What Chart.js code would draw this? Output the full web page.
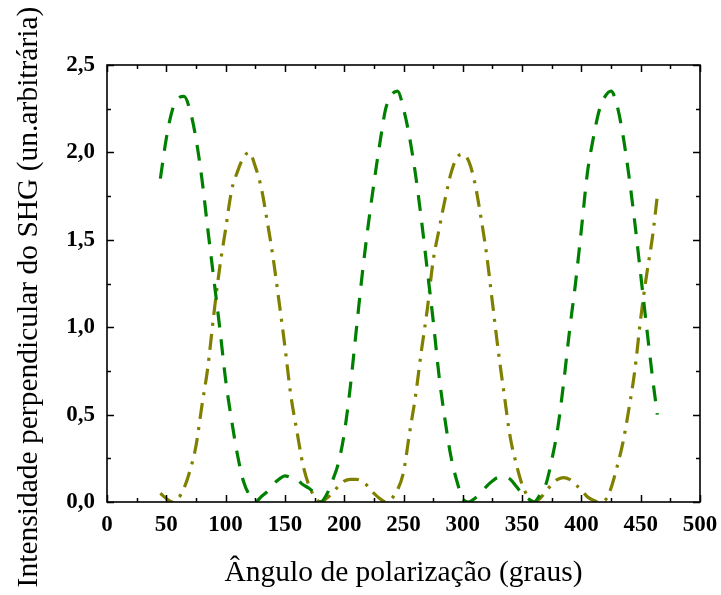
<!DOCTYPE html>
<html>
<head>
<meta charset="utf-8">
<script src="https://cdn.jsdelivr.net/npm/chart.js@4.4.1/dist/chart.umd.min.js"></script>
<style>
  html, body { margin: 0; padding: 0; background: #ffffff; }
  canvas { display: block; }
</style>
</head>
<body>
<canvas id="c" width="721" height="595"></canvas>
<script>
// Ângulo de polarização (graus)
const angles = [45,50,55,60,65,70,75,80,85,90,95,100,105,110,115,120,125,130,135,140,145,150,155,160,165,170,175,180,
  185,190,195,200,205,210,215,220,225,230,235,240,245,250,255,260,265,270,275,280,285,290,295,300,305,310,315,320,
  325,330,335,340,345,350,355,360,365,370,375,380,385,390,395,400,405,410,415,420,425,430,435,440,445,450,455,460,464];

// green dashed series
const seriesGreen = [1.85,2.08,2.24,2.31,2.32,2.24,2.08,1.85,1.56,1.28,1.00,0.70,0.47,0.27,0.12,0.04,0.00,0.03,0.06,0.10,0.13,0.15,0.14,0.13,0.10,0.08,0.05,0.00,
  0.04,0.12,0.22,0.39,0.65,0.97,1.29,1.57,1.82,2.05,2.25,2.33,2.35,2.25,2.09,1.88,1.62,1.33,1.04,0.72,0.47,0.26,0.12,0.02,0.00,0.02,0.05,0.09,
  0.12,0.14,0.14,0.13,0.09,0.05,0.02,0.00,0.04,0.10,0.24,0.42,0.68,0.98,1.25,1.56,1.88,2.08,2.24,2.32,2.35,2.27,2.10,1.87,1.60,1.30,1.00,0.71,0.50];

// olive dash-dot series
const seriesOlive = [0.05,0.02,0.00,0.02,0.08,0.18,0.32,0.55,0.77,1.07,1.34,1.56,1.78,1.89,1.97,2.00,1.92,1.80,1.61,1.40,1.15,0.89,0.61,0.41,0.22,0.10,0.03,0.00,
  0.02,0.05,0.09,0.12,0.13,0.13,0.12,0.09,0.05,0.02,0.00,0.02,0.07,0.17,0.39,0.60,0.86,1.10,1.38,1.56,1.73,1.88,1.97,1.99,1.95,1.83,1.64,1.42,
  1.14,0.86,0.61,0.37,0.22,0.10,0.03,0.00,0.02,0.06,0.10,0.13,0.14,0.13,0.10,0.07,0.03,0.01,0.00,0.01,0.08,0.20,0.34,0.53,0.75,1.05,1.30,1.52,1.75];

const xTicks = [0,50,100,150,200,250,300,350,400,450,500];
const yTicks = [0,0.5,1.0,1.5,2.0,2.5];
const xTitle = 'Ângulo de polarização (graus)';
const yTitle = 'Intensidade perpendicular do SHG (un.arbitrária)';

const toPts = (xs, ys) => xs.map((x, i) => ({x: x, y: ys[i]}));

const frameTicks = {
  id: 'frameTicks',
  afterDatasetsDraw(chart) {
    const {ctx, chartArea: a, scales: {x, y}} = chart;
    ctx.save();
    ctx.strokeStyle = '#000';
    ctx.lineWidth = 1.6;
    ctx.strokeRect(a.left, a.top, a.right - a.left, a.bottom - a.top);
    ctx.lineWidth = 1.5;
    ctx.beginPath();
    for (let v = 0; v <= 500; v += 25) {
      const px = Math.round(x.getPixelForValue(v)) + 0.5;
      const len = (v % 50 === 0) ? 7 : 4;
      ctx.moveTo(px, a.bottom); ctx.lineTo(px, a.bottom - len);
      ctx.moveTo(px, a.top); ctx.lineTo(px, a.top + len);
    }
    for (let k = 0; k <= 10; k++) {
      const v = k * 0.25;
      const py = Math.round(y.getPixelForValue(v)) + 0.5;
      const len = (k % 2 === 0) ? 7 : 4;
      ctx.moveTo(a.left, py); ctx.lineTo(a.left + len, py);
      ctx.moveTo(a.right, py); ctx.lineTo(a.right - len, py);
    }
    ctx.stroke();
    // y axis title
    ctx.fillStyle = '#000';
    ctx.font = '29.5px "Liberation Serif"';
    ctx.textAlign = 'center';
    ctx.textBaseline = 'alphabetic';
    ctx.translate(37, 297);
    ctx.rotate(-Math.PI / 2);
    ctx.fillText(yTitle, 0, 0);
    ctx.restore();
  }
};

new Chart(document.getElementById('c'), {
  type: 'scatter',
  data: {
    datasets: [
      {
        data: toPts(angles, seriesGreen),
        showLine: true,
        borderColor: '#008000',
        borderWidth: 3.2,
        borderDash: [16, 12],
        pointRadius: 0,
        cubicInterpolationMode: 'monotone',
        fill: false
      },
      {
        data: toPts(angles, seriesOlive),
        showLine: true,
        borderColor: '#808000',
        borderWidth: 3.2,
        borderDash: [16, 8, 3, 8],
        pointRadius: 0,
        cubicInterpolationMode: 'monotone',
        fill: false
      }
    ]
  },
  options: {
    responsive: false,
    animation: false,
    events: [],
    layout: { padding: { top: 65, right: 21, left: 0, bottom: 0 } },
    plugins: { legend: { display: false }, tooltip: { enabled: false } },
    scales: {
      x: {
        type: 'linear', min: 0, max: 500,
        afterBuildTicks: s => { s.ticks = xTicks.map(v => ({value: v})); },
        afterFit: s => { s.height = 93; s.paddingLeft = 0; s.paddingRight = 0; },
        grid: { display: false, drawTicks: false },
        border: { display: false },
        ticks: { color: '#000', padding: 9, maxRotation: 0, font: { family: 'Liberation Serif', size: 23, weight: 'bold' } },
        title: { display: true, text: xTitle, color: '#000', padding: { top: 0, bottom: 4 },
                 font: { family: 'Liberation Serif', size: 29.5, weight: 'normal' } }
      },
      y: {
        type: 'linear', min: 0, max: 2.5,
        afterBuildTicks: s => { s.ticks = yTicks.map(v => ({value: v})); },
        afterFit: s => { s.width = 107; s.paddingTop = 0; s.paddingBottom = 0; },
        grid: { display: false, drawTicks: false },
        border: { display: false },
        ticks: { color: '#000', padding: 12, callback: v => v.toFixed(1).replace('.', ','),
                 font: { family: 'Liberation Serif', size: 23, weight: 'bold' } },
        title: { display: false }
      }
    }
  },
  plugins: [frameTicks]
});
</script>
</body>
</html>
